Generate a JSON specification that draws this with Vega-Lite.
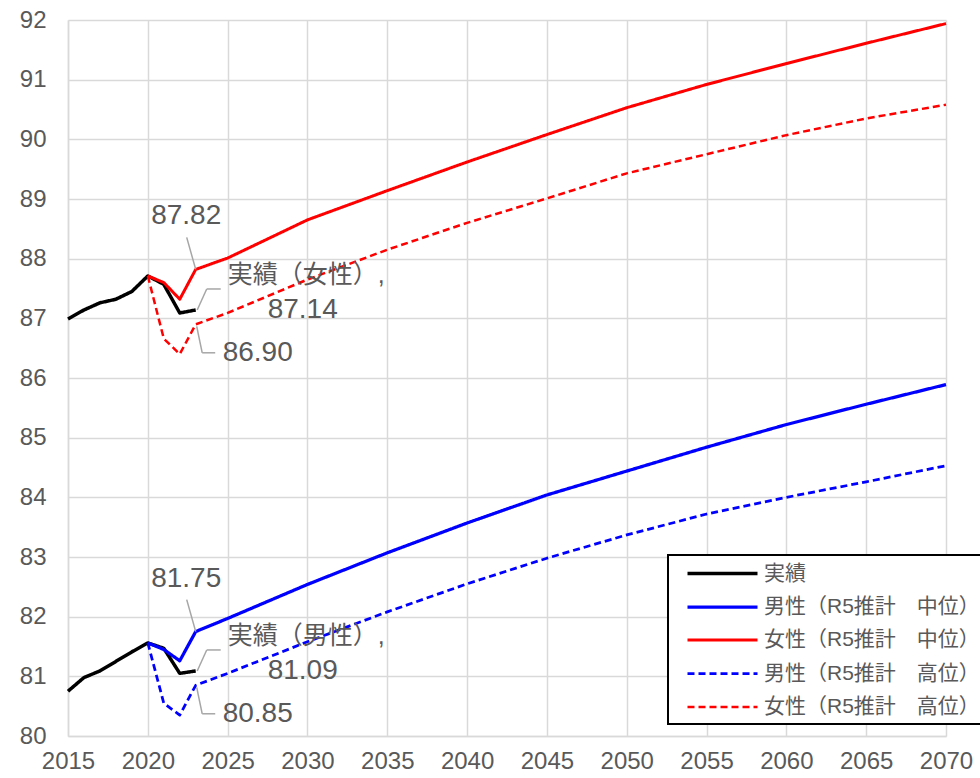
{
  "$schema": "https://vega.github.io/schema/vega-lite/v6.json",
  "width": 878,
  "height": 716,
  "autosize": {"type": "none"},
  "padding": {"left": 68, "top": 20, "right": 34, "bottom": 42},
  "background": "white",
  "config": {
    "view": {"stroke": null},
    "font": "Liberation Sans, Noto Sans CJK JP, sans-serif",
    "axis": {
      "gridColor": "#D9D9D9",
      "gridWidth": 1.5,
      "domainColor": "#D9D9D9",
      "domainWidth": 1.5,
      "ticks": false,
      "labelColor": "#595959",
      "labelFontSize": 24,
      "labelFont": "Liberation Sans, Noto Sans CJK JP, sans-serif",
      "labelOverlap": false,
      "labelFlush": false,
      "labelBound": false,
      "title": null
    },
    "legend": {
      "orient": "none",
      "legendX": 600,
      "legendY": 535,
      "strokeColor": "#000000",
      "strokeWidth": 2,
      "fillColor": "#FFFFFF",
      "padding": 6.5,
      "rowPadding": 11.5,
      "labelFontSize": 21,
      "labelColor": "#595959",
      "labelFont": "Liberation Sans, Noto Sans CJK JP, sans-serif",
      "labelLimit": 400,
      "labelOffset": 65.5,
      "symbolType": "M0.1,0H7.1",
      "symbolSize": 400,
      "symbolStrokeWidth": 2.5,
      "title": null
    }
  },
  "datasets": {
    "series": [
      {"series": "実績", "sex": "女性", "year": 2015, "value": 86.99},
      {"series": "実績", "sex": "女性", "year": 2016, "value": 87.14},
      {"series": "実績", "sex": "女性", "year": 2017, "value": 87.26},
      {"series": "実績", "sex": "女性", "year": 2018, "value": 87.32},
      {"series": "実績", "sex": "女性", "year": 2019, "value": 87.45},
      {"series": "実績", "sex": "女性", "year": 2020, "value": 87.71},
      {"series": "実績", "sex": "女性", "year": 2021, "value": 87.57},
      {"series": "実績", "sex": "女性", "year": 2022, "value": 87.09},
      {"series": "実績", "sex": "女性", "year": 2023, "value": 87.14},
      {"series": "実績", "sex": "男性", "year": 2015, "value": 80.75},
      {"series": "実績", "sex": "男性", "year": 2016, "value": 80.98},
      {"series": "実績", "sex": "男性", "year": 2017, "value": 81.09},
      {"series": "実績", "sex": "男性", "year": 2018, "value": 81.25},
      {"series": "実績", "sex": "男性", "year": 2019, "value": 81.41},
      {"series": "実績", "sex": "男性", "year": 2020, "value": 81.56},
      {"series": "実績", "sex": "男性", "year": 2021, "value": 81.47},
      {"series": "実績", "sex": "男性", "year": 2022, "value": 81.05},
      {"series": "実績", "sex": "男性", "year": 2023, "value": 81.09},

      {"series": "男性（R5推計　中位）", "sex": "男性", "year": 2020, "value": 81.56},
      {"series": "男性（R5推計　中位）", "sex": "男性", "year": 2021, "value": 81.45},
      {"series": "男性（R5推計　中位）", "sex": "男性", "year": 2022, "value": 81.26},
      {"series": "男性（R5推計　中位）", "sex": "男性", "year": 2023, "value": 81.75},
      {"series": "男性（R5推計　中位）", "sex": "男性", "year": 2025, "value": 81.97},
      {"series": "男性（R5推計　中位）", "sex": "男性", "year": 2030, "value": 82.54},
      {"series": "男性（R5推計　中位）", "sex": "男性", "year": 2035, "value": 83.07},
      {"series": "男性（R5推計　中位）", "sex": "男性", "year": 2040, "value": 83.57},
      {"series": "男性（R5推計　中位）", "sex": "男性", "year": 2045, "value": 84.04},
      {"series": "男性（R5推計　中位）", "sex": "男性", "year": 2050, "value": 84.44},
      {"series": "男性（R5推計　中位）", "sex": "男性", "year": 2055, "value": 84.84},
      {"series": "男性（R5推計　中位）", "sex": "男性", "year": 2060, "value": 85.22},
      {"series": "男性（R5推計　中位）", "sex": "男性", "year": 2065, "value": 85.56},
      {"series": "男性（R5推計　中位）", "sex": "男性", "year": 2070, "value": 85.89},

      {"series": "女性（R5推計　中位）", "sex": "女性", "year": 2020, "value": 87.71},
      {"series": "女性（R5推計　中位）", "sex": "女性", "year": 2021, "value": 87.60},
      {"series": "女性（R5推計　中位）", "sex": "女性", "year": 2022, "value": 87.32},
      {"series": "女性（R5推計　中位）", "sex": "女性", "year": 2023, "value": 87.82},
      {"series": "女性（R5推計　中位）", "sex": "女性", "year": 2025, "value": 88.01},
      {"series": "女性（R5推計　中位）", "sex": "女性", "year": 2030, "value": 88.65},
      {"series": "女性（R5推計　中位）", "sex": "女性", "year": 2035, "value": 89.14},
      {"series": "女性（R5推計　中位）", "sex": "女性", "year": 2040, "value": 89.62},
      {"series": "女性（R5推計　中位）", "sex": "女性", "year": 2045, "value": 90.08},
      {"series": "女性（R5推計　中位）", "sex": "女性", "year": 2050, "value": 90.53},
      {"series": "女性（R5推計　中位）", "sex": "女性", "year": 2055, "value": 90.92},
      {"series": "女性（R5推計　中位）", "sex": "女性", "year": 2060, "value": 91.27},
      {"series": "女性（R5推計　中位）", "sex": "女性", "year": 2065, "value": 91.61},
      {"series": "女性（R5推計　中位）", "sex": "女性", "year": 2070, "value": 91.94},

      {"series": "男性（R5推計　高位）", "sex": "男性", "year": 2020, "value": 81.56},
      {"series": "男性（R5推計　高位）", "sex": "男性", "year": 2021, "value": 80.55},
      {"series": "男性（R5推計　高位）", "sex": "男性", "year": 2022, "value": 80.35},
      {"series": "男性（R5推計　高位）", "sex": "男性", "year": 2023, "value": 80.85},
      {"series": "男性（R5推計　高位）", "sex": "男性", "year": 2025, "value": 81.05},
      {"series": "男性（R5推計　高位）", "sex": "男性", "year": 2030, "value": 81.58},
      {"series": "男性（R5推計　高位）", "sex": "男性", "year": 2035, "value": 82.08},
      {"series": "男性（R5推計　高位）", "sex": "男性", "year": 2040, "value": 82.55},
      {"series": "男性（R5推計　高位）", "sex": "男性", "year": 2045, "value": 82.98},
      {"series": "男性（R5推計　高位）", "sex": "男性", "year": 2050, "value": 83.37},
      {"series": "男性（R5推計　高位）", "sex": "男性", "year": 2055, "value": 83.72},
      {"series": "男性（R5推計　高位）", "sex": "男性", "year": 2060, "value": 84.00},
      {"series": "男性（R5推計　高位）", "sex": "男性", "year": 2065, "value": 84.26},
      {"series": "男性（R5推計　高位）", "sex": "男性", "year": 2070, "value": 84.53},

      {"series": "女性（R5推計　高位）", "sex": "女性", "year": 2020, "value": 87.71},
      {"series": "女性（R5推計　高位）", "sex": "女性", "year": 2021, "value": 86.66},
      {"series": "女性（R5推計　高位）", "sex": "女性", "year": 2022, "value": 86.40},
      {"series": "女性（R5推計　高位）", "sex": "女性", "year": 2023, "value": 86.90},
      {"series": "女性（R5推計　高位）", "sex": "女性", "year": 2025, "value": 87.09},
      {"series": "女性（R5推計　高位）", "sex": "女性", "year": 2030, "value": 87.65},
      {"series": "女性（R5推計　高位）", "sex": "女性", "year": 2035, "value": 88.15},
      {"series": "女性（R5推計　高位）", "sex": "女性", "year": 2040, "value": 88.60},
      {"series": "女性（R5推計　高位）", "sex": "女性", "year": 2045, "value": 89.01},
      {"series": "女性（R5推計　高位）", "sex": "女性", "year": 2050, "value": 89.43},
      {"series": "女性（R5推計　高位）", "sex": "女性", "year": 2055, "value": 89.75},
      {"series": "女性（R5推計　高位）", "sex": "女性", "year": 2060, "value": 90.07},
      {"series": "女性（R5推計　高位）", "sex": "女性", "year": 2065, "value": 90.35},
      {"series": "女性（R5推計　高位）", "sex": "女性", "year": 2070, "value": 90.58}
    ],
    "labels": [
      {"kind": "mid", "name": "女性中位", "year": 2023, "value": 87.82},
      {"kind": "mid", "name": "男性中位", "year": 2023, "value": 81.75},
      {"kind": "actual", "name": "実績（女性）,", "year": 2023, "value": 87.14},
      {"kind": "actual", "name": "実績（男性）,", "year": 2023, "value": 81.09},
      {"kind": "high", "name": "女性高位", "year": 2023, "value": 86.90},
      {"kind": "high", "name": "男性高位", "year": 2023, "value": 80.85}
    ]
  },
  "layer": [
    {
      "data": {"name": "series"},
      "transform": [{"filter": "datum.series === '実績'"}],
      "mark": {"type": "line", "strokeJoin": "round"},
      "encoding": {
        "x": {
          "field": "year",
          "type": "quantitative",
          "scale": {"domain": [2015, 2070], "nice": false, "zero": false},
          "axis": {
            "values": [2015, 2020, 2025, 2030, 2035, 2040, 2045, 2050, 2055, 2060, 2065, 2070],
            "format": "d",
            "labelPadding": 13,
            "grid": true
          }
        },
        "y": {
          "field": "value",
          "type": "quantitative",
          "scale": {"domain": [80, 92], "nice": false, "zero": false},
          "axis": {
            "values": [80, 81, 82, 83, 84, 85, 86, 87, 88, 89, 90, 91, 92],
            "format": "d",
            "labelPadding": 22,
            "grid": true
          }
        },
        "detail": {"field": "sex"},
        "color": {
          "field": "series",
          "type": "nominal",
          "scale": {
            "domain": ["実績", "男性（R5推計　中位）", "女性（R5推計　中位）", "男性（R5推計　高位）", "女性（R5推計　高位）"],
            "range": ["#000000", "#0000FF", "#FF0000", "#0000FF", "#FF0000"]
          },
          "legend": {}
        },
        "strokeDash": {
          "field": "series",
          "type": "nominal",
          "scale": {
            "domain": ["実績", "男性（R5推計　中位）", "女性（R5推計　中位）", "男性（R5推計　高位）", "女性（R5推計　高位）"],
            "range": [[1, 0], [1, 0], [1, 0], [7, 4], [7, 4]]
          }
        },
        "strokeWidth": {
          "field": "series",
          "type": "nominal",
          "scale": {
            "domain": ["実績", "男性（R5推計　中位）", "女性（R5推計　中位）", "男性（R5推計　高位）", "女性（R5推計　高位）"],
            "range": [3.5, 2.5, 2.5, 2.5, 2.5]
          }
        }
      }
    },
    {
      "data": {"name": "series"},
      "transform": [{"filter": "datum.series !== '実績'"}],
      "mark": {"type": "line", "strokeJoin": "round"},
      "encoding": {
        "x": {"field": "year", "type": "quantitative"},
        "y": {"field": "value", "type": "quantitative"},
        "detail": {"field": "sex"},
        "color": {"field": "series", "type": "nominal"},
        "strokeDash": {"field": "series", "type": "nominal"},
        "strokeWidth": {"field": "series", "type": "nominal"}
      }
    },
    {
      "data": {"name": "labels"},
      "transform": [{"filter": "datum.kind === 'mid'"}],
      "mark": {"type": "rule", "color": "#A6A6A6", "strokeWidth": 1.5, "x2Offset": -9, "y2Offset": -32},
      "encoding": {
        "x": {"field": "year", "type": "quantitative"},
        "y": {"field": "value", "type": "quantitative"},
        "x2": {"field": "year"},
        "y2": {"field": "value"}
      }
    },
    {
      "data": {"name": "labels"},
      "transform": [{"filter": "datum.kind === 'mid'"}],
      "mark": {"type": "text", "fontSize": 28, "color": "#595959", "align": "center", "baseline": "middle", "dx": -9.5, "dy": -53},
      "encoding": {
        "x": {"field": "year", "type": "quantitative"},
        "y": {"field": "value", "type": "quantitative"},
        "text": {"field": "value", "type": "quantitative", "format": ".2f"}
      }
    },
    {
      "data": {"name": "labels"},
      "transform": [{"filter": "datum.kind === 'actual'"}],
      "mark": {"type": "rule", "color": "#A6A6A6", "strokeWidth": 1.5, "xOffset": 1.5, "x2Offset": 11, "y2Offset": -21},
      "encoding": {
        "x": {"field": "year", "type": "quantitative"},
        "y": {"field": "value", "type": "quantitative"},
        "x2": {"field": "year"},
        "y2": {"field": "value"}
      }
    },
    {
      "data": {"name": "labels"},
      "transform": [{"filter": "datum.kind === 'actual'"}],
      "mark": {"type": "rule", "color": "#A6A6A6", "strokeWidth": 1.5, "xOffset": 11, "yOffset": -21, "x2Offset": 25, "y2Offset": -21},
      "encoding": {
        "x": {"field": "year", "type": "quantitative"},
        "y": {"field": "value", "type": "quantitative"},
        "x2": {"field": "year"},
        "y2": {"field": "value"}
      }
    },
    {
      "data": {"name": "labels"},
      "transform": [{"filter": "datum.kind === 'actual'"}],
      "mark": {"type": "text", "fontSize": 25, "color": "#595959", "align": "left", "baseline": "middle", "dx": 32, "dy": -35},
      "encoding": {
        "x": {"field": "year", "type": "quantitative"},
        "y": {"field": "value", "type": "quantitative"},
        "text": {"field": "name"}
      }
    },
    {
      "data": {"name": "labels"},
      "transform": [{"filter": "datum.kind === 'actual'"}],
      "mark": {"type": "text", "fontSize": 28, "color": "#595959", "align": "center", "baseline": "middle", "dx": 107, "dy": 0},
      "encoding": {
        "x": {"field": "year", "type": "quantitative"},
        "y": {"field": "value", "type": "quantitative"},
        "text": {"field": "value", "type": "quantitative", "format": ".2f"}
      }
    },
    {
      "data": {"name": "labels"},
      "transform": [{"filter": "datum.kind === 'high'"}],
      "mark": {"type": "rule", "color": "#A6A6A6", "strokeWidth": 1.5, "xOffset": 1, "yOffset": 2, "x2Offset": 6.5, "y2Offset": 28.5},
      "encoding": {
        "x": {"field": "year", "type": "quantitative"},
        "y": {"field": "value", "type": "quantitative"},
        "x2": {"field": "year"},
        "y2": {"field": "value"}
      }
    },
    {
      "data": {"name": "labels"},
      "transform": [{"filter": "datum.kind === 'high'"}],
      "mark": {"type": "rule", "color": "#A6A6A6", "strokeWidth": 1.5, "xOffset": 6.5, "yOffset": 28.5, "x2Offset": 19.5, "y2Offset": 28.5},
      "encoding": {
        "x": {"field": "year", "type": "quantitative"},
        "y": {"field": "value", "type": "quantitative"},
        "x2": {"field": "year"},
        "y2": {"field": "value"}
      }
    },
    {
      "data": {"name": "labels"},
      "transform": [{"filter": "datum.kind === 'high'"}],
      "mark": {"type": "text", "fontSize": 28, "color": "#595959", "align": "center", "baseline": "middle", "dx": 62, "dy": 28.5},
      "encoding": {
        "x": {"field": "year", "type": "quantitative"},
        "y": {"field": "value", "type": "quantitative"},
        "text": {"field": "value", "type": "quantitative", "format": ".2f"}
      }
    }
  ]
}
